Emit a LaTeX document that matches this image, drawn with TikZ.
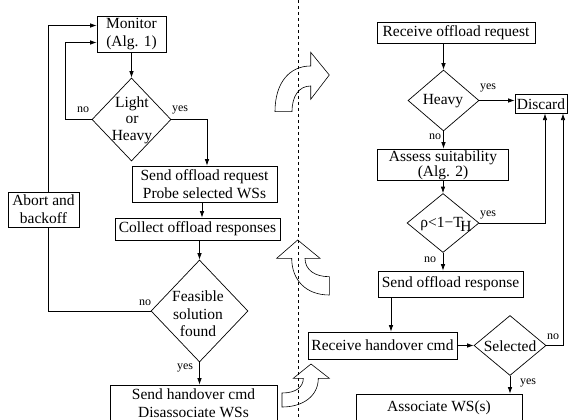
\documentclass[tikz,border=0pt]{standalone}
\usepackage{fontspec}
\setmainfont{Liberation Serif}
\usetikzlibrary{shapes.geometric,arrows.meta}
\begin{document}
\begin{tikzpicture}[x=1pt,y=-1pt,line width=0.7pt,
  every node/.style={font=\fontsize{15.5}{18}\selectfont},
  box/.style={draw, rectangle, inner sep=0pt, align=center},
  dia/.style={draw, diamond, inner sep=0pt, aspect=1},
  txt/.style={inner sep=0pt, align=center},
  lbl/.style={inner sep=0pt, font=\fontsize{12}{14}\selectfont},
  conn/.style={-{Latex[length=6.5pt,width=4.5pt]}},
  sep/.style={line width=0.6pt, dash pattern=on 3.3pt off 2.7pt},
  blk/.style={line width=0.6pt, line join=miter}
]
\useasboundingbox (0,0) rectangle (571,420);
\clip (0,0) rectangle (571,420);

% separator
\draw[sep] (298,0) -- (298,420);

% ---------- left flow ----------
\node[box, minimum width=69pt, minimum height=36pt] (mon) at (131.5,34) {Monitor\\(Alg. 1)};
\node[dia, minimum width=79pt, minimum height=83pt] (lh) at (131.5,119.5) {};
\node[txt, font=\fontsize{15.5}{16.5}\selectfont] (lht) at (132,120) {Light\\or\\Heavy};
\node[box, minimum width=145pt, minimum height=36pt] (sor) at (204.5,184) {Send offload request\\Probe selected WSs};
\node[box, minimum width=165pt, minimum height=22pt] (col) at (197.5,229) {Collect offload responses};
\node[dia, minimum width=97pt, minimum height=102pt] (fs) at (199.5,311) {};
\node[txt, font=\fontsize{15.5}{17.5}\selectfont] (fst) at (198,314) {Feasible\\solution\\found};
\node[box, minimum width=167pt, minimum height=36pt] (sh) at (193.5,403) {Send handover cmd\\Disassociate WSs};
\node[box, minimum width=71pt, minimum height=35pt] (ab) at (43.5,209.5) {Abort and\\backoff};

\draw[conn] (mon.south) -- (lh.north);
\draw[conn] (lh.west) -- ++(-26,0) |- ([yshift=-8.5pt]mon.west);
\draw[conn] (lh.east) -| ([xshift=2.5pt]sor.north);
\draw[conn] ([xshift=-2.5pt]sor.south) -- ([xshift=-2.5pt]sor.south |- col.north);
\draw[conn] (col.south -| fs.north) -- (fs.north);
\draw (fs.west) -| ([xshift=4.5pt]ab.south);
\draw[conn] ([xshift=4.5pt]ab.north) |- ([yshift=8.5pt]mon.west);
\draw[conn] (fs.south) -- (fs.south |- sh.north);

\node[lbl] (l1) at (83,110) {no};
\node[lbl] (l2) at (180,110) {yes};
\node[lbl] (l3) at (145,303) {no};
\node[lbl] (l4) at (185,368) {yes};

% ---------- right flow ----------
\node[box, minimum width=158pt, minimum height=21pt] (ror) at (456,33) {Receive offload request};
\node[dia, minimum width=71pt, minimum height=61pt] (hv) at (443.5,100.5) {};
\node[txt] (hvt) at (443,101) {Heavy};
\node[box, minimum width=52pt, minimum height=19pt] (dis) at (541,103.7) {Discard};
\node[box, minimum width=131pt, minimum height=31pt] (as) at (442.5,164.5) {};
\node[txt, font=\fontsize{15.5}{12.5}\selectfont] (ast) at (443,165) {Assess suitability\\(Alg. 2)};
\node[dia, minimum width=72pt, minimum height=59pt] (rho) at (443,223) {};
\node[txt] (rhot) at (446,224) {ρ<1−T\kern-2.5pt\raisebox{-4pt}{H}};
\node[box, minimum width=145pt, minimum height=26pt] (sor2) at (450.5,284) {Send offload response};
\node[box, minimum width=149pt, minimum height=27pt] (rhc) at (382.5,345.5) {Receive handover cmd};
\node[dia, minimum width=72pt, minimum height=60pt] (sel) at (510,345.5) {};
\node[txt] (selt) at (510,346) {Selected};
\node[box, minimum width=166pt, minimum height=28pt] (aws) at (439,408) {Associate WS(s)};

\draw[conn] (ror.south -| hv.north) -- (hv.north);
\draw[conn] (hv.east) -- (hv.east -| dis.west);
\draw[conn] (hv.south) -- (hv.south |- as.north);
\draw[conn] (as.south -| rho.north) -- (rho.north);
\draw[conn] (rho.east) -| ([xshift=4pt]dis.south);
\draw[conn] (rho.south) -- (rho.south |- sor2.north);
\draw[conn] ([xshift=8.5pt]rhc.north |- sor2.south) -- ([xshift=8.5pt]rhc.north);
\draw[conn] (rhc.east) -- (sel.west);
\draw[conn] (sel.east) -| ([xshift=22pt]dis.south);
\draw[conn] (sel.south) -- (sel.south |- aws.north);

\node[lbl] (l5) at (488,88) {yes};
\node[lbl] (l6) at (435,137) {no};
\node[lbl] (l7) at (488,215) {yes};
\node[lbl] (l8) at (430,260) {no};
\node[lbl] (l9) at (553,337) {no};
\node[lbl] (l10) at (528,383) {yes};

% ---------- curved block arrows ----------
\draw[blk] (275,111.7) .. controls (275,82) and (290,66) .. (310.7,66)
  -- (310.7,52.3) -- (329.3,75) -- (310.7,99.3) -- (310.7,86)
  .. controls (299,86) and (292,96) .. (292,111.7) -- cycle;
\draw[blk] (297.7,240) -- (320,258.3) -- (305,258.3)
  .. controls (305,270) and (315,276.7) .. (329.3,276.7)
  -- (329.3,295) .. controls (306,295) and (291.7,280) .. (291.7,258.3)
  -- (276.7,258.3) -- cycle;
\draw[blk] (311,364) -- (329.3,378.3) -- (318.3,378.3)
  .. controls (318.3,396) and (303,407) .. (282,407)
  -- (282,393) .. controls (296,393) and (303.3,387) .. (303.3,378.3)
  -- (293.3,378.3) -- cycle;
\end{tikzpicture}
\end{document}
